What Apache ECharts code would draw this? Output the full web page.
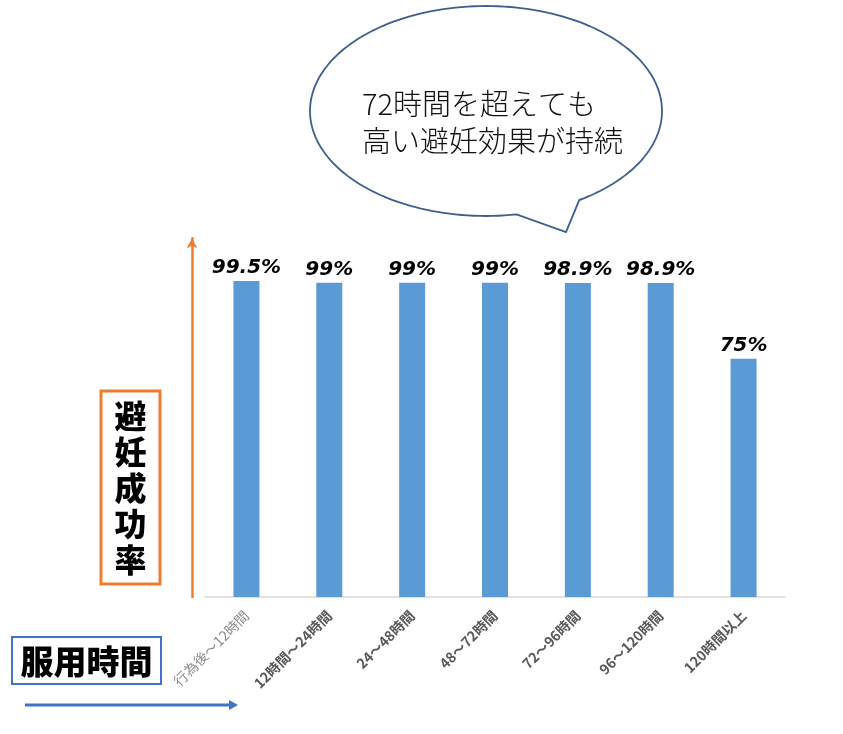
<!DOCTYPE html>
<html>
<head>
<meta charset="utf-8">
<script src="https://cdn.jsdelivr.net/npm/echarts@6/dist/echarts.min.js"></script>
<style>html,body{margin:0;padding:0;background:#fff;}#c{width:843px;height:734px;}</style>
</head>
<body>
<div id="c"></div>
<script>
const categories = ['行為後～12時間','12時間～24時間','24～48時間','48～72時間','72～96時間','96～120時間','120時間以上'];
const values = [99.5, 99, 99, 99, 98.9, 98.9, 75];
const valueLabels = ['99.5%','99%','99%','99%','98.9%','98.9%','75%'];
const yTitle = '避妊成功率';
const xTitle = '服用時間';
const bubbleLines = ['72時間を超えても','高い避妊効果が持続'];

// speech bubble outline (decoration): ellipse arc + tail
function bubblePoints() {
  const cx = 486, cy = 111, rx = 176, ry = 105;
  const pts = [];
  for (let a = 80; a <= 418; a += 2) {
    const t = a * Math.PI / 180;
    pts.push([cx + rx * Math.cos(t), cy + ry * Math.sin(t)]);
  }
  pts.push([566, 232]);
  return pts;
}

const chart = echarts.init(document.getElementById('c'));
const cjk = '"Noto Sans CJK JP", "Noto Sans", sans-serif';
chart.setOption({
  animation: false,
  backgroundColor: '#fff',
  grid: { left: 205, right: 58, top: 238.2, bottom: 137 },
  xAxis: {
    type: 'category',
    data: categories,
    axisLine: { show: true, lineStyle: { color: '#D9D9D9', width: 1.5 } },
    axisTick: { show: false },
    axisLabel: {
      rotate: 45,
      interval: 0,
      margin: 16,
      formatter: (v, i) => i === 0 ? '{a|' + v + '}' : '{b|' + v + '}',
      rich: {
        a: { fontFamily: cjk, fontSize: 14, color: '#8C8C8C', fontWeight: 'normal' },
        b: { fontFamily: cjk, fontSize: 14, color: '#595959', fontWeight: 'bold' }
      }
    }
  },
  yAxis: {
    type: 'value',
    min: 0,
    max: 113,
    offset: 13,
    axisLine: { show: true, symbol: ['none', 'arrow'], symbolSize: [8, 10], lineStyle: { color: '#ED7D31', width: 2.5 } },
    axisTick: { show: false },
    axisLabel: { show: false },
    splitLine: { show: false }
  },
  series: [{
    type: 'bar',
    data: values,
    barWidth: 26,
    itemStyle: { color: '#5B9BD5' },
    label: {
      show: true,
      position: 'top',
      distance: 3,
      formatter: p => valueLabels[p.dataIndex],
      fontFamily: '"DejaVu Sans", sans-serif',
      fontWeight: 'bold',
      fontStyle: 'italic',
      fontSize: 20,
      color: '#000'
    }
  }],
  graphic: [
    {
      type: 'polygon',
      shape: { points: bubblePoints() },
      style: { fill: '#fff', stroke: '#3E5F8A', lineWidth: 1.8 }
    },
    {
      type: 'text', left: 362, top: 89,
      style: { text: bubbleLines[0], font: '300 29px ' + cjk, fill: '#111' }
    },
    {
      type: 'text', left: 362, top: 126,
      style: { text: bubbleLines[1], font: '300 29px ' + cjk, fill: '#111' }
    },
    {
      type: 'rect',
      shape: { x: 101, y: 391, width: 59, height: 193 },
      style: { fill: '#fff', stroke: '#ED7D31', lineWidth: 3 }
    },
    {
      type: 'text', x: 130.5, y: 487.5,
      style: {
        text: yTitle.split('').join('\n'), font: '900 32px ' + cjk,
        fill: '#000', align: 'center', verticalAlign: 'middle', lineHeight: 36
      }
    },
    {
      type: 'rect',
      shape: { x: 12, y: 637, width: 149, height: 47 },
      style: { fill: '#fff', stroke: '#4472C4', lineWidth: 2 }
    },
    {
      type: 'text', x: 86.5, y: 661,
      style: { text: xTitle, font: '900 33px ' + cjk, fill: '#000', align: 'center', verticalAlign: 'middle' }
    },
    {
      type: 'line',
      shape: { x1: 25, y1: 705, x2: 230, y2: 705 },
      style: { stroke: '#4472C4', lineWidth: 3 }
    },
    {
      type: 'polygon',
      shape: { points: [[229, 700], [238, 705], [229, 710]] },
      style: { fill: '#4472C4' }
    }
  ]
});
</script>
</body>
</html>
